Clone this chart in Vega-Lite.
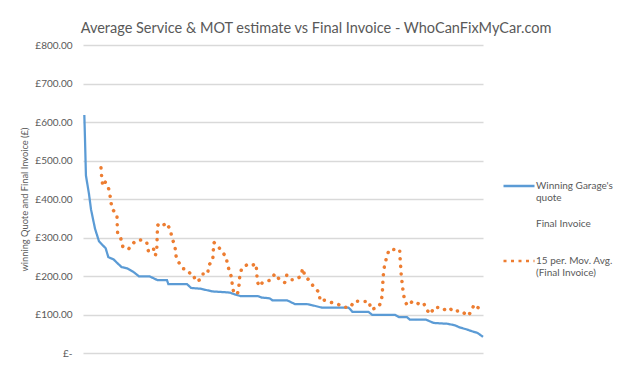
{
  "$schema": "https://vega.github.io/schema/vega-lite/v6.json",
  "width": 400,
  "height": 308,
  "autosize": {"type": "none"},
  "padding": {"left": 83, "top": 45, "right": 147, "bottom": 18},
  "background": "white",
  "title": {
    "text": "Average Service & MOT estimate vs Final Invoice - WhoCanFixMyCar.com",
    "font": "Lato", "fontSize": 14.5, "fontWeight": "normal", "color": "#595959",
    "anchor": "middle", "dx": 33, "offset": 4
  },
  "config": {"view": {"stroke": null}, "font": "Lato"},
  "datasets": {
    "quote": [
      {"n": 1, "value": 618, "series": "Winning Garage's quote"},
      {"n": 1.5, "value": 556, "series": "Winning Garage's quote"},
      {"n": 2.2, "value": 461, "series": "Winning Garage's quote"},
      {"n": 4.5, "value": 413, "series": "Winning Garage's quote"},
      {"n": 6, "value": 373, "series": "Winning Garage's quote"},
      {"n": 9, "value": 323, "series": "Winning Garage's quote"},
      {"n": 12, "value": 290, "series": "Winning Garage's quote"},
      {"n": 17, "value": 272, "series": "Winning Garage's quote"},
      {"n": 19, "value": 249, "series": "Winning Garage's quote"},
      {"n": 23, "value": 243, "series": "Winning Garage's quote"},
      {"n": 25, "value": 236, "series": "Winning Garage's quote"},
      {"n": 29, "value": 223, "series": "Winning Garage's quote"},
      {"n": 33, "value": 220, "series": "Winning Garage's quote"},
      {"n": 38, "value": 210, "series": "Winning Garage's quote"},
      {"n": 42, "value": 199, "series": "Winning Garage's quote"},
      {"n": 50, "value": 199, "series": "Winning Garage's quote"},
      {"n": 56, "value": 189, "series": "Winning Garage's quote"},
      {"n": 63, "value": 189, "series": "Winning Garage's quote"},
      {"n": 64, "value": 179, "series": "Winning Garage's quote"},
      {"n": 78, "value": 179, "series": "Winning Garage's quote"},
      {"n": 81, "value": 169, "series": "Winning Garage's quote"},
      {"n": 88, "value": 167, "series": "Winning Garage's quote"},
      {"n": 97, "value": 160, "series": "Winning Garage's quote"},
      {"n": 110, "value": 157, "series": "Winning Garage's quote"},
      {"n": 114, "value": 152, "series": "Winning Garage's quote"},
      {"n": 118, "value": 148, "series": "Winning Garage's quote"},
      {"n": 131, "value": 148, "series": "Winning Garage's quote"},
      {"n": 134, "value": 144, "series": "Winning Garage's quote"},
      {"n": 140, "value": 142, "series": "Winning Garage's quote"},
      {"n": 142, "value": 137, "series": "Winning Garage's quote"},
      {"n": 153, "value": 137, "series": "Winning Garage's quote"},
      {"n": 159, "value": 127, "series": "Winning Garage's quote"},
      {"n": 168, "value": 127, "series": "Winning Garage's quote"},
      {"n": 172, "value": 124, "series": "Winning Garage's quote"},
      {"n": 179, "value": 118, "series": "Winning Garage's quote"},
      {"n": 199, "value": 118, "series": "Winning Garage's quote"},
      {"n": 200, "value": 115, "series": "Winning Garage's quote"},
      {"n": 202, "value": 107, "series": "Winning Garage's quote"},
      {"n": 214, "value": 107, "series": "Winning Garage's quote"},
      {"n": 217, "value": 99, "series": "Winning Garage's quote"},
      {"n": 234, "value": 99, "series": "Winning Garage's quote"},
      {"n": 237, "value": 93, "series": "Winning Garage's quote"},
      {"n": 243, "value": 93, "series": "Winning Garage's quote"},
      {"n": 245, "value": 87, "series": "Winning Garage's quote"},
      {"n": 257, "value": 87, "series": "Winning Garage's quote"},
      {"n": 263, "value": 78, "series": "Winning Garage's quote"},
      {"n": 273, "value": 76, "series": "Winning Garage's quote"},
      {"n": 279, "value": 72, "series": "Winning Garage's quote"},
      {"n": 282, "value": 67, "series": "Winning Garage's quote"},
      {"n": 288, "value": 61, "series": "Winning Garage's quote"},
      {"n": 293, "value": 55, "series": "Winning Garage's quote"},
      {"n": 296, "value": 52, "series": "Winning Garage's quote"},
      {"n": 300, "value": 42, "series": "Winning Garage's quote"}
    ],
    "mavg": [
      {"n": 13.5, "value": 481, "series": "15 per. Mov. Avg. (Final Invoice)"},
      {"n": 14.0, "value": 458, "series": "15 per. Mov. Avg. (Final Invoice)"},
      {"n": 14.8, "value": 435, "series": "15 per. Mov. Avg. (Final Invoice)"},
      {"n": 16.3, "value": 445, "series": "15 per. Mov. Avg. (Final Invoice)"},
      {"n": 18.2, "value": 438, "series": "15 per. Mov. Avg. (Final Invoice)"},
      {"n": 20.0, "value": 418, "series": "15 per. Mov. Avg. (Final Invoice)"},
      {"n": 20.8, "value": 394, "series": "15 per. Mov. Avg. (Final Invoice)"},
      {"n": 22.0, "value": 373, "series": "15 per. Mov. Avg. (Final Invoice)"},
      {"n": 24.8, "value": 363, "series": "15 per. Mov. Avg. (Final Invoice)"},
      {"n": 25.5, "value": 354, "series": "15 per. Mov. Avg. (Final Invoice)"},
      {"n": 25.7, "value": 331, "series": "15 per. Mov. Avg. (Final Invoice)"},
      {"n": 26.0, "value": 309, "series": "15 per. Mov. Avg. (Final Invoice)"},
      {"n": 28.3, "value": 298, "series": "15 per. Mov. Avg. (Final Invoice)"},
      {"n": 29.8, "value": 277, "series": "15 per. Mov. Avg. (Final Invoice)"},
      {"n": 34.0, "value": 269, "series": "15 per. Mov. Avg. (Final Invoice)"},
      {"n": 37.0, "value": 283, "series": "15 per. Mov. Avg. (Final Invoice)"},
      {"n": 39.8, "value": 292, "series": "15 per. Mov. Avg. (Final Invoice)"},
      {"n": 44.3, "value": 294, "series": "15 per. Mov. Avg. (Final Invoice)"},
      {"n": 47.8, "value": 287, "series": "15 per. Mov. Avg. (Final Invoice)"},
      {"n": 49.0, "value": 265, "series": "15 per. Mov. Avg. (Final Invoice)"},
      {"n": 51.0, "value": 271, "series": "15 per. Mov. Avg. (Final Invoice)"},
      {"n": 52.7, "value": 273, "series": "15 per. Mov. Avg. (Final Invoice)"},
      {"n": 54.2, "value": 253, "series": "15 per. Mov. Avg. (Final Invoice)"},
      {"n": 55.3, "value": 265, "series": "15 per. Mov. Avg. (Final Invoice)"},
      {"n": 55.5, "value": 288, "series": "15 per. Mov. Avg. (Final Invoice)"},
      {"n": 55.7, "value": 310, "series": "15 per. Mov. Avg. (Final Invoice)"},
      {"n": 56.0, "value": 333, "series": "15 per. Mov. Avg. (Final Invoice)"},
      {"n": 58.5, "value": 327, "series": "15 per. Mov. Avg. (Final Invoice)"},
      {"n": 62.5, "value": 338, "series": "15 per. Mov. Avg. (Final Invoice)"},
      {"n": 65.5, "value": 320, "series": "15 per. Mov. Avg. (Final Invoice)"},
      {"n": 66.8, "value": 298, "series": "15 per. Mov. Avg. (Final Invoice)"},
      {"n": 69.0, "value": 278, "series": "15 per. Mov. Avg. (Final Invoice)"},
      {"n": 69.5, "value": 256, "series": "15 per. Mov. Avg. (Final Invoice)"},
      {"n": 70.7, "value": 240, "series": "15 per. Mov. Avg. (Final Invoice)"},
      {"n": 72.5, "value": 232, "series": "15 per. Mov. Avg. (Final Invoice)"},
      {"n": 75.0, "value": 219, "series": "15 per. Mov. Avg. (Final Invoice)"},
      {"n": 77.8, "value": 217, "series": "15 per. Mov. Avg. (Final Invoice)"},
      {"n": 80.8, "value": 205, "series": "15 per. Mov. Avg. (Final Invoice)"},
      {"n": 82.7, "value": 204, "series": "15 per. Mov. Avg. (Final Invoice)"},
      {"n": 84.5, "value": 186, "series": "15 per. Mov. Avg. (Final Invoice)"},
      {"n": 87.8, "value": 190, "series": "15 per. Mov. Avg. (Final Invoice)"},
      {"n": 90.0, "value": 205, "series": "15 per. Mov. Avg. (Final Invoice)"},
      {"n": 93.5, "value": 205, "series": "15 per. Mov. Avg. (Final Invoice)"},
      {"n": 94.3, "value": 228, "series": "15 per. Mov. Avg. (Final Invoice)"},
      {"n": 97.3, "value": 240, "series": "15 per. Mov. Avg. (Final Invoice)"},
      {"n": 97.7, "value": 265, "series": "15 per. Mov. Avg. (Final Invoice)"},
      {"n": 98.3, "value": 287, "series": "15 per. Mov. Avg. (Final Invoice)"},
      {"n": 101.3, "value": 277, "series": "15 per. Mov. Avg. (Final Invoice)"},
      {"n": 104.0, "value": 264, "series": "15 per. Mov. Avg. (Final Invoice)"},
      {"n": 107.3, "value": 250, "series": "15 per. Mov. Avg. (Final Invoice)"},
      {"n": 108.5, "value": 228, "series": "15 per. Mov. Avg. (Final Invoice)"},
      {"n": 110.3, "value": 207, "series": "15 per. Mov. Avg. (Final Invoice)"},
      {"n": 111.5, "value": 196, "series": "15 per. Mov. Avg. (Final Invoice)"},
      {"n": 112.0, "value": 174, "series": "15 per. Mov. Avg. (Final Invoice)"},
      {"n": 113.3, "value": 153, "series": "15 per. Mov. Avg. (Final Invoice)"},
      {"n": 116.0, "value": 156, "series": "15 per. Mov. Avg. (Final Invoice)"},
      {"n": 117.2, "value": 180, "series": "15 per. Mov. Avg. (Final Invoice)"},
      {"n": 117.5, "value": 197, "series": "15 per. Mov. Avg. (Final Invoice)"},
      {"n": 119.0, "value": 220, "series": "15 per. Mov. Avg. (Final Invoice)"},
      {"n": 123.8, "value": 231, "series": "15 per. Mov. Avg. (Final Invoice)"},
      {"n": 127.3, "value": 228, "series": "15 per. Mov. Avg. (Final Invoice)"},
      {"n": 129.8, "value": 232, "series": "15 per. Mov. Avg. (Final Invoice)"},
      {"n": 130.3, "value": 209, "series": "15 per. Mov. Avg. (Final Invoice)"},
      {"n": 130.7, "value": 186, "series": "15 per. Mov. Avg. (Final Invoice)"},
      {"n": 132.2, "value": 173, "series": "15 per. Mov. Avg. (Final Invoice)"},
      {"n": 134.8, "value": 184, "series": "15 per. Mov. Avg. (Final Invoice)"},
      {"n": 140.5, "value": 189, "series": "15 per. Mov. Avg. (Final Invoice)"},
      {"n": 144.0, "value": 206, "series": "15 per. Mov. Avg. (Final Invoice)"},
      {"n": 147.5, "value": 190, "series": "15 per. Mov. Avg. (Final Invoice)"},
      {"n": 151.3, "value": 183, "series": "15 per. Mov. Avg. (Final Invoice)"},
      {"n": 152.8, "value": 202, "series": "15 per. Mov. Avg. (Final Invoice)"},
      {"n": 155.8, "value": 190, "series": "15 per. Mov. Avg. (Final Invoice)"},
      {"n": 159.2, "value": 190, "series": "15 per. Mov. Avg. (Final Invoice)"},
      {"n": 163.3, "value": 199, "series": "15 per. Mov. Avg. (Final Invoice)"},
      {"n": 164.8, "value": 220, "series": "15 per. Mov. Avg. (Final Invoice)"},
      {"n": 166.5, "value": 199, "series": "15 per. Mov. Avg. (Final Invoice)"},
      {"n": 169.7, "value": 189, "series": "15 per. Mov. Avg. (Final Invoice)"},
      {"n": 173.0, "value": 172, "series": "15 per. Mov. Avg. (Final Invoice)"},
      {"n": 177.2, "value": 157, "series": "15 per. Mov. Avg. (Final Invoice)"},
      {"n": 177.8, "value": 135, "series": "15 per. Mov. Avg. (Final Invoice)"},
      {"n": 181.0, "value": 137, "series": "15 per. Mov. Avg. (Final Invoice)"},
      {"n": 185.3, "value": 132, "series": "15 per. Mov. Avg. (Final Invoice)"},
      {"n": 191.0, "value": 127, "series": "15 per. Mov. Avg. (Final Invoice)"},
      {"n": 195.2, "value": 119, "series": "15 per. Mov. Avg. (Final Invoice)"},
      {"n": 200.6, "value": 119, "series": "15 per. Mov. Avg. (Final Invoice)"},
      {"n": 203.5, "value": 135, "series": "15 per. Mov. Avg. (Final Invoice)"},
      {"n": 209.6, "value": 134, "series": "15 per. Mov. Avg. (Final Invoice)"},
      {"n": 214.5, "value": 134, "series": "15 per. Mov. Avg. (Final Invoice)"},
      {"n": 216.0, "value": 113, "series": "15 per. Mov. Avg. (Final Invoice)"},
      {"n": 221.5, "value": 119, "series": "15 per. Mov. Avg. (Final Invoice)"},
      {"n": 223.7, "value": 133, "series": "15 per. Mov. Avg. (Final Invoice)"},
      {"n": 224.5, "value": 156, "series": "15 per. Mov. Avg. (Final Invoice)"},
      {"n": 224.8, "value": 178, "series": "15 per. Mov. Avg. (Final Invoice)"},
      {"n": 225.2, "value": 201, "series": "15 per. Mov. Avg. (Final Invoice)"},
      {"n": 226.0, "value": 224, "series": "15 per. Mov. Avg. (Final Invoice)"},
      {"n": 227.6, "value": 247, "series": "15 per. Mov. Avg. (Final Invoice)"},
      {"n": 229.5, "value": 268, "series": "15 per. Mov. Avg. (Final Invoice)"},
      {"n": 234.0, "value": 269, "series": "15 per. Mov. Avg. (Final Invoice)"},
      {"n": 237.5, "value": 269, "series": "15 per. Mov. Avg. (Final Invoice)"},
      {"n": 237.8, "value": 247, "series": "15 per. Mov. Avg. (Final Invoice)"},
      {"n": 238.3, "value": 223, "series": "15 per. Mov. Avg. (Final Invoice)"},
      {"n": 238.7, "value": 201, "series": "15 per. Mov. Avg. (Final Invoice)"},
      {"n": 239.5, "value": 178, "series": "15 per. Mov. Avg. (Final Invoice)"},
      {"n": 240.2, "value": 156, "series": "15 per. Mov. Avg. (Final Invoice)"},
      {"n": 241.5, "value": 133, "series": "15 per. Mov. Avg. (Final Invoice)"},
      {"n": 243.5, "value": 123, "series": "15 per. Mov. Avg. (Final Invoice)"},
      {"n": 247.3, "value": 135, "series": "15 per. Mov. Avg. (Final Invoice)"},
      {"n": 252.2, "value": 127, "series": "15 per. Mov. Avg. (Final Invoice)"},
      {"n": 255.5, "value": 130, "series": "15 per. Mov. Avg. (Final Invoice)"},
      {"n": 257.3, "value": 114, "series": "15 per. Mov. Avg. (Final Invoice)"},
      {"n": 260.5, "value": 101, "series": "15 per. Mov. Avg. (Final Invoice)"},
      {"n": 263.5, "value": 119, "series": "15 per. Mov. Avg. (Final Invoice)"},
      {"n": 267.8, "value": 118, "series": "15 per. Mov. Avg. (Final Invoice)"},
      {"n": 270.5, "value": 112, "series": "15 per. Mov. Avg. (Final Invoice)"},
      {"n": 274.7, "value": 118, "series": "15 per. Mov. Avg. (Final Invoice)"},
      {"n": 277.7, "value": 107, "series": "15 per. Mov. Avg. (Final Invoice)"},
      {"n": 282.2, "value": 110, "series": "15 per. Mov. Avg. (Final Invoice)"},
      {"n": 284.8, "value": 107, "series": "15 per. Mov. Avg. (Final Invoice)"},
      {"n": 288.2, "value": 96, "series": "15 per. Mov. Avg. (Final Invoice)"},
      {"n": 291.0, "value": 106, "series": "15 per. Mov. Avg. (Final Invoice)"},
      {"n": 293.3, "value": 126, "series": "15 per. Mov. Avg. (Final Invoice)"},
      {"n": 297.8, "value": 114, "series": "15 per. Mov. Avg. (Final Invoice)"}
    ]
  },
  "encoding": {
    "x": {"field": "n", "type": "quantitative", "scale": {"domain": [0, 300], "nice": false}, "axis": null},
    "y": {
      "field": "value", "type": "quantitative",
      "scale": {"domain": [0, 800], "nice": false},
      "axis": {
        "values": [0, 100, 200, 300, 400, 500, 600, 700, 800],
        "title": "winning Quote and Final Invoice (£)",
        "labelExpr": "datum.value == 0 ? '£-\u00a0\u00a0' : '£' + format(datum.value, ',.2f')",
        "grid": true, "gridColor": "#d9d9d9", "gridWidth": 1.3, "gridOpacity": 1,
        "domain": false, "ticks": false, "labelOverlap": false,
        "labelPadding": 11, "labelFont": "Lato", "labelFontSize": 10, "labelColor": "#595959",
        "titleFont": "Lato", "titleFontSize": 9.3, "titleFontWeight": "normal", "titleColor": "#595959",
        "titlePadding": 5
      }
    },
    "color": {
      "field": "series", "type": "nominal",
      "scale": {
        "domain": ["Winning Garage's quote", "Final Invoice", "15 per. Mov. Avg. (Final Invoice)"],
        "range": ["#5b9bd5", "rgba(0,0,0,0)", "#ed7d31"]
      },
      "legend": {
        "title": null, "orient": "none", "legendX": 419, "legendY": 124, "padding": 0,
        "symbolType": "stroke", "symbolSize": 961, "symbolStrokeWidth": 2.5,
        "labelFont": "Lato", "labelFontSize": 10, "labelColor": "#595959", "labelLimit": 200, "labelOffset": 0,
        "rowPadding": 3.5,
        "labelExpr": "indexof(datum.label, 'Winning') >= 0 ? ['Winning Garage\\'s', 'quote'] : indexof(datum.label, 'Mov') >= 0 ? ['15 per. Mov. Avg.', '(Final Invoice)'] : ['Final Invoice', '']"
      }
    }
  },
  "layer": [
    {
      "data": {"name": "quote"},
      "mark": {"type": "line", "strokeWidth": 2.25},
      "encoding": {
        "strokeDash": {
          "field": "series", "type": "nominal",
          "scale": {
            "domain": ["Winning Garage's quote", "Final Invoice", "15 per. Mov. Avg. (Final Invoice)"],
            "range": [[1, 0], [1, 0], [3, 4.5]]
          },
          "legend": {
            "title": null, "orient": "none", "legendX": 419, "legendY": 124, "padding": 0,
            "symbolType": "stroke", "symbolSize": 961, "symbolStrokeWidth": 2.5,
            "labelFont": "Lato", "labelFontSize": 10, "labelColor": "#595959", "labelLimit": 200, "labelOffset": 0,
            "rowPadding": 3.5,
            "labelExpr": "indexof(datum.label, 'Winning') >= 0 ? ['Winning Garage\\'s', 'quote'] : indexof(datum.label, 'Mov') >= 0 ? ['15 per. Mov. Avg.', '(Final Invoice)'] : ['Final Invoice', '']"
          }
        }
      }
    },
    {
      "data": {"name": "mavg"},
      "mark": {"type": "line", "strokeWidth": 3.5, "strokeCap": "round", "strokeDash": [0.1, 7.5]}
    }
  ]
}
